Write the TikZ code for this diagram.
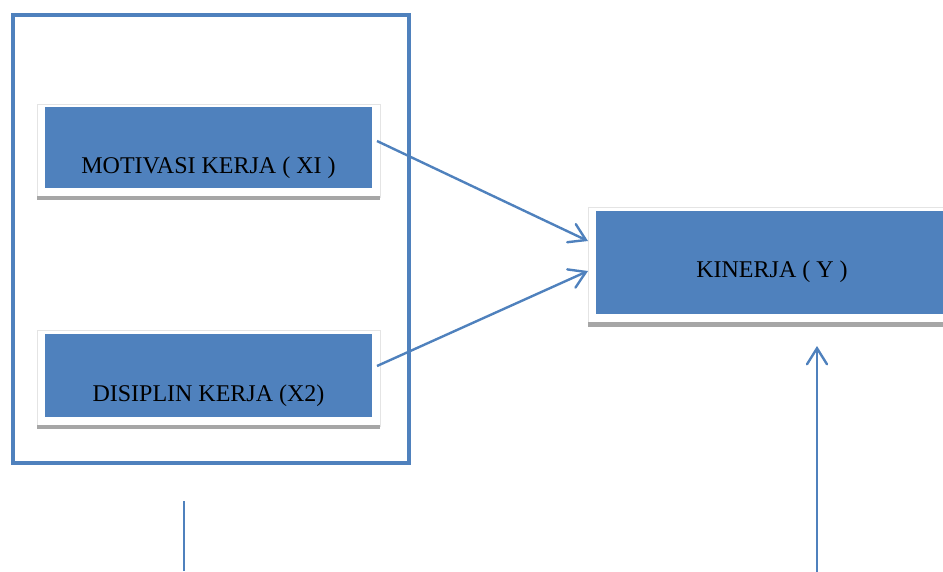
\documentclass[tikz,border=0pt]{standalone}
\usepackage{fontspec}
\setmainfont{Liberation Serif}
\usetikzlibrary{arrows.meta}
\definecolor{ofblue}{HTML}{4F81BD}
\definecolor{shgray}{HTML}{A6A6A6}
\definecolor{edgegray}{HTML}{E4E4E4}
\begin{document}
\begin{tikzpicture}[x=1pt,y=-1pt,
  bluebox/.style={fill=ofblue,draw=none,inner sep=0pt},
  backbox/.style={fill=white,draw=edgegray,line width=0.6pt},
  shadowbar/.style={fill=shgray,draw=none},
  label/.style={font=\fontsize{24}{26}\selectfont,text=black,inner sep=0pt,anchor=base},
  conn/.style={draw=ofblue,line width=2.4pt,-{Straight Barb[length=16pt,width=20pt,line cap=round]}},
  frame/.style={draw=ofblue,line width=4.8pt}]
\useasboundingbox (0,0) rectangle (943,571);
% outer frame
\draw[frame] (13,15) rectangle (409,463);
% box 1
\draw[backbox] (37,104) rectangle (380,197);
\fill[shadowbar] (37,196) rectangle (380,200);
\node[bluebox,minimum width=327pt,minimum height=81pt] (mot) at (208.5,147.5) {};
\node[label] (motl) at (208.5,173) {MOTIVASI KERJA ( XI )};
% box 2
\draw[backbox] (37,330) rectangle (380,426);
\fill[shadowbar] (37,425) rectangle (380,429);
\node[bluebox,minimum width=327pt,minimum height=83pt] (dis) at (208.5,375.5) {};
\node[label] (disl) at (208.5,401) {DISIPLIN KERJA (X2)};
% box Y
\draw[backbox] (588,207) rectangle (950,323);
\fill[shadowbar] (588,322) rectangle (950,327);
\node[bluebox,minimum width=360pt,minimum height=103pt] (kin) at (776,262.5) {};
\node[label] (kinl) at (772,277) {KINERJA ( Y )};
% connectors
\coordinate (a1s) at (377,141);
\coordinate (a1e) at (588,241);
\coordinate (a2s) at (377,366);
\coordinate (a2e) at (588,271);
\draw[conn] (a1s) -- (a1e);
\draw[conn] (a2s) -- (a2e);
% lower lines
\coordinate (l1t) at (184,501);
\coordinate (l1b) at (184,571);
\draw[draw=ofblue,line width=1.8pt] (l1t) -- (l1b);
\coordinate (r1t) at (817,346);
\coordinate (r1b) at (817,575);
\draw[conn] (r1b) -- (r1t);
\end{tikzpicture}
\end{document}
